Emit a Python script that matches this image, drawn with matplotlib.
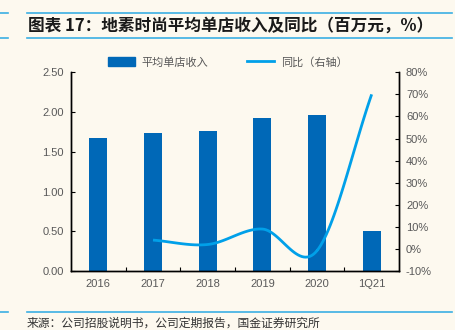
import numpy as np
import matplotlib
matplotlib.use("Agg")
import matplotlib.pyplot as plt
from matplotlib.lines import Line2D
from matplotlib.patches import Patch

plt.rcParams['font.family'] = ['Liberation Sans', 'Noto Sans CJK SC', 'DejaVu Sans']

categories = ["2016", "2017", "2018", "2019", "2020", "1Q21"]
revenue = [1.67, 1.73, 1.765, 1.92, 1.96, 0.50]          # 百万元
yoy_cats = ["2017", "2018", "2019", "2020", "1Q21"]
yoy = [4.0, 2.0, 9.0, -0.8, 70.0]                         # %

BG = "#FDF9EF"
BAR = "#0068B7"
LINE = "#00A0E9"
RULE = "#3BAFE3"
TXT = "#595959"


def catmull_rom(x, y, n=30):
    x = np.asarray(x, float)
    y = np.asarray(y, float)
    px = np.concatenate([[2 * x[0] - x[1]], x, [2 * x[-1] - x[-2]]])
    py = np.concatenate([[2 * y[0] - y[1]], y, [2 * y[-1] - y[-2]]])
    xs, ys = [], []
    for i in range(1, len(px) - 2):
        t = np.linspace(0, 1, n)
        for P, out in ((px, xs), (py, ys)):
            p0, p1, p2, p3 = P[i - 1], P[i], P[i + 1], P[i + 2]
            out.extend(0.5 * ((2 * p1) + (-p0 + p2) * t
                              + (2 * p0 - 5 * p1 + 4 * p2 - p3) * t ** 2
                              + (-p0 + 3 * p1 - 3 * p2 + p3) * t ** 3))
    return np.array(xs), np.array(ys)


fig = plt.figure(figsize=(4.56, 3.30), dpi=100, facecolor=BG)
ax = fig.add_axes([0.1557, 0.1788, 0.7193, 0.6022])
ax.set_facecolor(BG)
ax2 = ax.twinx()

x = np.arange(len(categories))
ax.bar(x, revenue, width=0.33, color=BAR, zorder=2)
ax.set_xlim(-0.5, len(categories) - 0.5)
ax.set_ylim(0, 2.5)
ax.set_yticks(np.arange(0, 2.51, 0.5))
ax.set_yticklabels([f"{v:.2f}" for v in np.arange(0, 2.51, 0.5)])
ax.set_xticks(x)
ax.set_xticklabels(categories)
ax.set_xticks(np.arange(0.5, len(categories) - 0.5, 1), minor=True)
ax.tick_params(axis='x', which='major', length=0, pad=6, labelsize=8, labelcolor=TXT)
ax.tick_params(axis='x', which='minor', direction='in', length=3, width=0.8)
ax.tick_params(axis='y', direction='in', length=3, width=0.8, labelsize=8, labelcolor=TXT, pad=5)

xi = np.array([categories.index(c) for c in yoy_cats])
sx, sy = catmull_rom(xi, yoy)
ax2.plot(sx, sy, color=LINE, lw=2.0, solid_capstyle='butt', zorder=3)
ax2.set_ylim(-10, 80)
ax2.set_yticks(np.arange(-10, 81, 10))
ax2.set_yticklabels([f"{v}%" for v in range(-10, 81, 10)])
ax2.tick_params(axis='y', direction='in', length=3, width=0.8, labelsize=8, labelcolor=TXT, pad=5)

for a in (ax, ax2):
    a.spines['top'].set_visible(False)
    for s in ('left', 'right', 'bottom'):
        a.spines[s].set_linewidth(1.0)
        a.spines[s].set_color('black')

handles = [Patch(color=BAR), Line2D([], [], color=LINE, lw=2)]
fig.legend(handles, ["平均单店收入", "同比（右轴）"], loc='center', bbox_to_anchor=(0.5, 0.812),
           ncol=2, frameon=False, labelcolor=TXT, handlelength=2.4,
           handleheight=0.8, columnspacing=3.5, handletextpad=0.6,
           prop={'family': ['Noto Sans CJK SC'], 'size': 8})

# Title band
for yy in (1 - 13 / 330, 1 - 38 / 330):
    fig.add_artist(Line2D([27 / 456, 452 / 456], [yy, yy], color=RULE, lw=1.2))
    fig.add_artist(Line2D([0, 8 / 456], [yy, yy], color=RULE, lw=1.2))
fig.text(28 / 456, 1 - 25.5 / 330, "图表 17：地素时尚平均单店收入及同比（百万元，%）",
         family=['Noto Sans CJK SC'], fontsize=12, fontweight='bold', va='center', ha='left',
         color='#1a1a1a')

# Source footer
fig.add_artist(Line2D([27 / 456, 452 / 456], [1 - 312 / 330] * 2, color=RULE, lw=1.2))
fig.add_artist(Line2D([0, 8 / 456], [1 - 312 / 330] * 2, color=RULE, lw=1.2))
fig.text(27 / 456, 1 - 323 / 330, "来源：公司招股说明书，公司定期报告，国金证券研究所",
         family=['Noto Sans CJK SC'], fontsize=8.5, va='center', ha='left', color='#333333')

fig.savefig("out.png", dpi=100, facecolor=BG)
